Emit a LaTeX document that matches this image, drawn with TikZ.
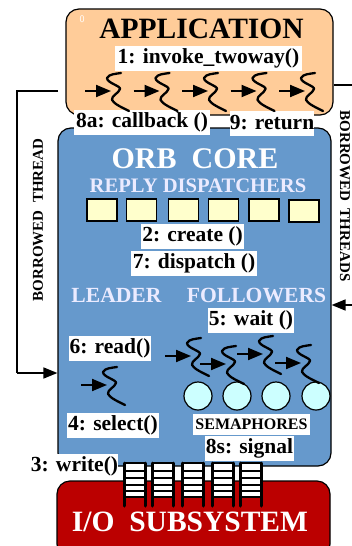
\documentclass[tikz,border=0pt]{standalone}
\usepackage{fontspec}
\setmainfont{Liberation Serif}
\usetikzlibrary{arrows.meta}
\definecolor{appfill}{HTML}{FFCC99}
\definecolor{orbfill}{HTML}{6699CC}
\definecolor{iofill}{HTML}{BB0000}
\definecolor{dispfill}{HTML}{FFFFCC}
\definecolor{semafill}{HTML}{CCFFFF}
\tikzset{
 x=1pt,y=-1pt,
 panel/.style={draw=black,line width=1.2pt,rounded corners=13pt},
 lbl/.style={fill=white,inner sep=0pt,font=\fontsize{21.5}{22}\selectfont\bfseries,text=black},
 head/.style={text=white,font=\bfseries,inner sep=0pt},
 dispbox/.style={draw=black,line width=1.5pt,fill=dispfill,minimum width=30pt,minimum height=22pt,inner sep=0pt},
 sema/.style={circle,draw=black,line width=1.2pt,fill=semafill,minimum size=28pt,inner sep=0pt},
 conn/.style={draw=black,line width=1.2pt},
 tip/.style={-{Triangle[length=15pt,width=12pt]},line width=2pt},
 rot/.style={font=\fontsize{15}{16}\selectfont\bfseries,inner sep=0pt,text=black},
 thread/.pic={
   \draw[tip] (0,0) -- (26,0);
   \draw[line width=2.3pt,line cap=round,line join=round]
     (36,-18) .. controls (30,-17) and (24,-17) .. (22,-13)
     .. controls (22,-8) and (36,-5) .. (35,-2)
     .. controls (34,2) and (26,5) .. (27,9)
     .. controls (29,13) and (38,17) .. (44,20);
 },
 rung/.style={line width=2.6pt},
 rail/.style={line width=3pt,line cap=round},
 ladder/.pic={
   \fill[white] (0,0) rectangle (21,34);
   \foreach \r in {0,8,15,22,28,34} \draw[rung] (0,\r) -- (21,\r);
   \draw[rail] (0,0) -- (0,43);
   \draw[rail] (21,0) -- (21,43);
 }
}
\begin{document}
\begin{tikzpicture}
\useasboundingbox (0,0) rectangle (352,546);
\clip (0,0) rectangle (352,546);
% panels
\node[panel,fill=appfill,minimum width=267pt,minimum height=106pt,inner sep=0pt] (app) at (199.5,62) {};
\node[panel,fill=orbfill,minimum width=273pt,minimum height=338pt,inner sep=0pt] (orb) at (194.5,297) {};
\node[panel,fill=iofill,minimum width=273pt,minimum height=76pt,inner sep=0pt] (io) at (193.5,519) {};
% outer connectors
\coordinate (lefttop) at (58,91);
\coordinate (leftcorner) at (17,91);
\coordinate (leftlow) at (17,373);
\coordinate (rightend) at (352,85);
\coordinate (rightin) at (352,305);
\draw[conn] (lefttop) -- (leftcorner) -- (leftlow);
\draw[conn,line width=1.6pt,-{Triangle[length=14pt,width=11pt]}] (leftlow) -- (orb.west |- leftlow);
\draw[conn] (app.east |- rightend) -- (rightend);
\draw[conn,line width=1.6pt,-{Triangle[length=14pt,width=11pt]}] (rightin) -- (orb.east |- rightin);
% headings
\node[text=white,font=\sffamily\fontsize{10}{10}\selectfont,inner sep=0pt] (zero) at (82,19) {0};
\node[font=\fontsize{29.5}{30}\selectfont\bfseries,inner sep=0pt,text=black] (apptitle) at (201.5,29) {APPLICATION};
\node[head,font=\fontsize{30}{30}\selectfont\bfseries] (orbtitle) at (195,159) {ORB\ \ CORE};
\node[head,font=\fontsize{20.6}{21}\selectfont\bfseries,text=white!92!blue] (reply) at (198,186) {REPLY DISPATCHERS};
\node[head,font=\fontsize{21.6}{22}\selectfont\bfseries,text=white!92!blue] (leader) at (116.5,295) {LEADER};
\node[head,font=\fontsize{21.6}{22}\selectfont\bfseries,text=white!92!blue] (followers) at (256.5,296) {FOLLOWERS};
\node[font=\fontsize{29.5}{30}\selectfont\bfseries,text=white,inner sep=0pt] (iotitle) at (190,522) {I/O\ \ SUBSYSTEM};
% labels
\node[lbl,minimum width=187pt,minimum height=25pt] (l1) at (208.5,58.5) {1: invoke\_twoway()};
\node[lbl,minimum width=136pt,minimum height=25pt] (l8a) at (142,122.5) {8a: callback ()};
\node[lbl,minimum width=84pt,minimum height=25pt] (l9) at (272,123) {9: return};
\node[lbl,minimum width=103pt,minimum height=25pt] (l2) at (192.5,236.5) {2: create ()};
\node[lbl,minimum width=126pt,minimum height=25pt] (l7) at (194,263.5) {7: dispatch ()};
\node[lbl,minimum width=86pt,minimum height=25pt] (l5) at (251,320.5) {5: wait ()};
\node[lbl,minimum width=82pt,minimum height=25pt] (l6) at (110,348.5) {6: read()};
\node[lbl,minimum width=92pt,minimum height=25pt] (l4) at (113,425.5) {4: select()};
\node[lbl,font=\fontsize{16}{17}\selectfont\bfseries,minimum width=117pt,minimum height=21pt] (sem) at (251.5,424.5) {SEMAPHORES};
\node[lbl,minimum width=89pt,minimum height=25pt] (l8s) at (249.5,448.5) {8s: signal};
\node[lbl,minimum width=85pt,minimum height=25pt] (l3) at (74.5,466.5) {3: write()};
% rotated labels
\node[rot,rotate=90] (bt) at (38,220) {BORROWED\ \ THREAD};
\node[rot,rotate=-90] (bts) at (345,196) {BORROWED\ \ THREADS};
% dispatchers
\foreach \n/\xx/\yy in {a/102/210,b/141.5/210,c/183.5/210,d/223.5/210,e/264/210,f/304/211}
  \node[dispbox] (d\n) at (\xx,\yy) {};
% semaphores
\foreach \n/\xx in {a/198,b/237,c/276,d/316}
  \node[sema] (s\n) at (\xx,396) {};
% threads
\foreach \xx in {85,133.5,182,230.5,279} \pic at (\xx,91) {thread};
\pic at (165,356) {thread};
\pic at (200,364) {thread};
\pic at (237,354) {thread};
\pic at (275,363) {thread};
\pic at (81,385) {thread};
% ladders
\foreach \xx in {124,152,182,212,240} \pic at (\xx,463) {ladder};
\end{tikzpicture}
\end{document}
